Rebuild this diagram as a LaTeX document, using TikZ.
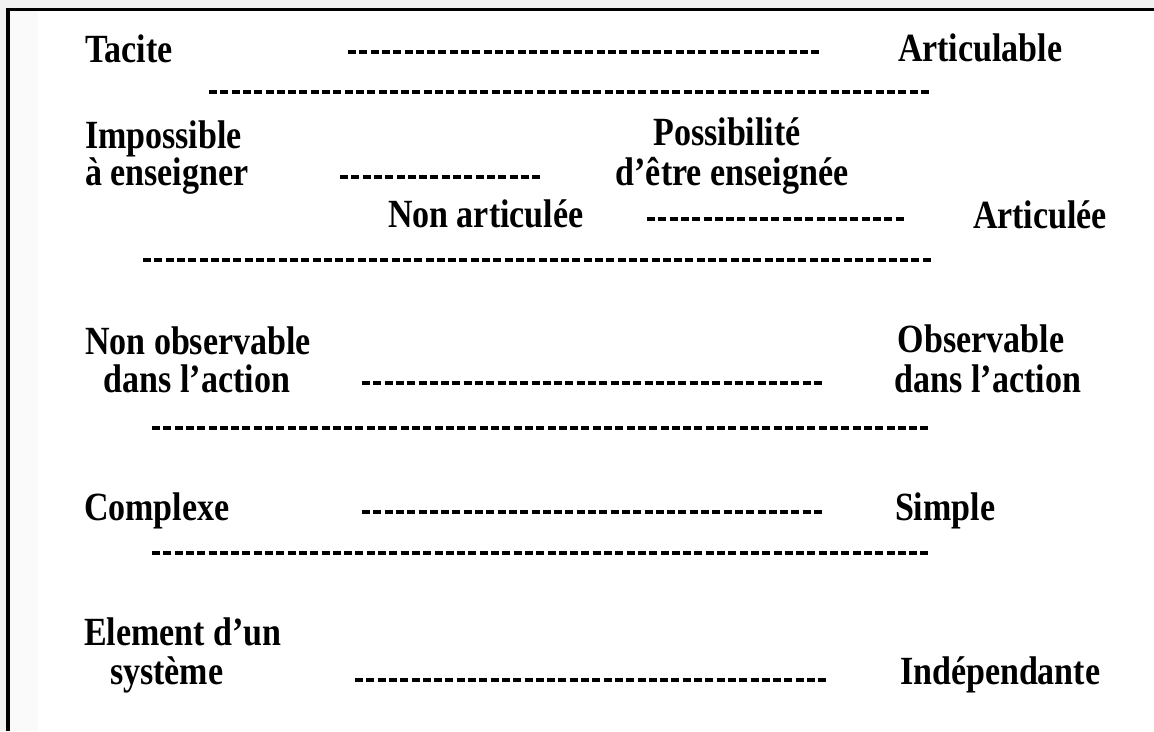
\documentclass[tikz,border=0pt]{standalone}
\usepackage{fontspec}
\setmainfont{Liberation Serif}[FakeStretch=0.85]
\begin{document}
\begin{tikzpicture}[x=1pt,y=-1pt,
  lbl/.style={inner sep=0pt, outer sep=0pt, font=\fontsize{40}{37}\selectfont\bfseries},
  lw/.style={lbl, anchor=base west},
  lc/.style={lbl, anchor=base},
  rule/.style={line width=3.3pt, dash pattern=on 8pt off 3.3pt}]
\useasboundingbox (0,0) rectangle (1154,731);
% page backdrop and frame
\fill[gray!10] (0,0) rectangle (1154,731);
\fill[white] (8,9.5) rectangle (1154,731);
\fill[gray!4] (10,11) rectangle (38,731);
\draw[line width=3.5pt] (8,731) -- (8,9.5) -- (1154,9.5);

% labels
\node[lw] (tacite) at (85,62) {Tacite};
\node[lw] (articulable) at (898,61) {Articulable};
\node[lw] (impossA) at (85,148) {Impossible};
\node[lw] (impossB) at (85,185) {à enseigner};
\node[lc] (possA) at (727,145) {Possibilité};
\node[lc] (possB) at (732,185) {d’être enseignée};
\node[lw] (nonart) at (388,227) {Non articulée};
\node[lw] (art) at (973,228) {Articulée};
\node[lc] (nonobsA) at (198,354) {Non observable};
\node[lc] (nonobsB) at (197,392) {dans l’action};
\node[lc] (obsA) at (981,352) {Observable};
\node[lc] (obsB) at (988,392) {dans l’action};
\node[lw] (complexe) at (84,520) {Complexe};
\node[lw] (simple) at (895,520) {Simple};
\node[lw] (elemA) at (84,645) {Element d’un};
\node[lw] (elemB) at (110,684) {système};
\node[lw] (indep) at (900,684) {Indépendante};

% dashed rules (lengths are whole numbers of dashes)
\coordinate (r1a) at (348,52);  \coordinate (r1b) at (819.3,52);
\coordinate (r2a) at (209,92);  \coordinate (r2b) at (928.9,92);
\coordinate (r3a) at (340,177); \coordinate (r3b) at (540.1,177);
\coordinate (r4a) at (647,219); \coordinate (r4b) at (903.6,219);
\coordinate (r5a) at (143,260); \coordinate (r5b) at (930.7,260);
\coordinate (r6a) at (362,383); \coordinate (r6b) at (822,383);
\coordinate (r7a) at (152,428); \coordinate (r7b) at (928.4,428);
\coordinate (r8a) at (362,512); \coordinate (r8b) at (822,512);
\coordinate (r9a) at (152,553); \coordinate (r9b) at (928.4,553);
\coordinate (r10a) at (355,680); \coordinate (r10b) at (826.3,680);
\foreach \r in {1,...,10} \draw[rule] (r\r a) -- (r\r b);
\end{tikzpicture}
\end{document}
